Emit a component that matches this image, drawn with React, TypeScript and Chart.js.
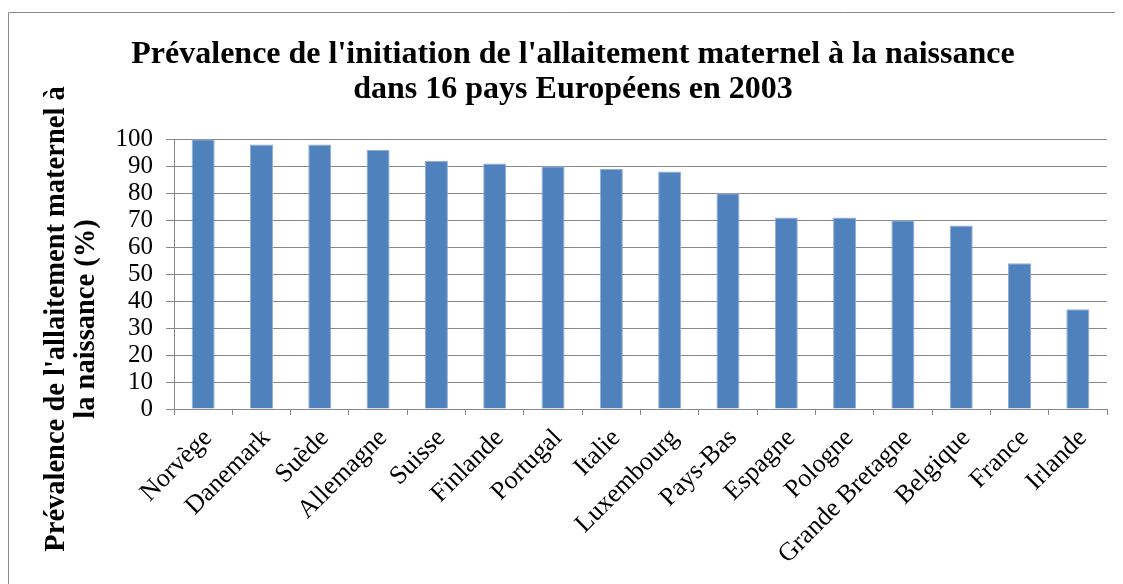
import React, { useEffect, useRef } from "react";
import { Chart, registerables } from "chart.js";

Chart.register(...registerables);

const countries = [
  "Norvège",
  "Danemark",
  "Suède",
  "Allemagne",
  "Suisse",
  "Finlande",
  "Portugal",
  "Italie",
  "Luxembourg",
  "Pays-Bas",
  "Espagne",
  "Pologne",
  "Grande Bretagne",
  "Belgique",
  "France",
  "Irlande",
];
const prevalence = [100, 98, 98, 96, 92, 91, 90, 89, 88, 80, 71, 71, 70, 68, 54, 37];
const titleLines = [
  "Prévalence de l'initiation de l'allaitement maternel à la naissance",
  "dans 16 pays Européens en 2003",
];
const yTitleLines = ["Prévalence de l'allaitement maternel à", "la naissance (%)"];
const yMin = 0;
const yMax = 100;
const yStep = 10;

const SERIF = "'Liberation Serif', 'Times New Roman', serif";
const W = 1115;
const H = 572;

const framePlugin = {
  id: "frameAndYTitle",
  afterDraw(chart: any) {
    const ctx = chart.ctx as CanvasRenderingContext2D;
    ctx.save();
    ctx.strokeStyle = "#8a8a8a";
    ctx.lineWidth = 1;
    ctx.beginPath();
    ctx.moveTo(0.5, chart.height);
    ctx.lineTo(0.5, 0.5);
    ctx.lineTo(chart.width, 0.5);
    ctx.stroke();
    ctx.translate(49, 307);
    ctx.rotate(-Math.PI / 2);
    ctx.font = "bold 28.5px " + SERIF;
    ctx.textAlign = "center";
    ctx.textBaseline = "middle";
    ctx.fillStyle = "#000";
    yTitleLines.forEach((line, i) => ctx.fillText(line, 0, i * 30));
    ctx.restore();
  },
};

export default function App() {
  const ref = useRef<HTMLCanvasElement | null>(null);
  useEffect(() => {
    document.documentElement.style.overflow = "hidden";
    const canvas = ref.current;
    if (!canvas) return;
    const chart = new Chart(canvas, {
      type: "bar",
      data: {
        labels: countries,
        datasets: [
          {
            data: prevalence,
            backgroundColor: "#4F81BD",
            borderColor: "#8FADD6",
            borderWidth: { top: 1, left: 1, right: 1, bottom: 0 },
            barPercentage: 0.395,
            categoryPercentage: 1,
          },
        ],
      },
      options: {
        responsive: false,
        animation: false,
        devicePixelRatio: 1,
        layout: { padding: { left: 31, right: 16, top: 0, bottom: 0 } },
        plugins: {
          legend: { display: false },
          tooltip: { enabled: false },
          title: {
            display: true,
            text: titleLines,
            color: "#000",
            font: { family: SERIF, size: 32, weight: "bold", lineHeight: 1.1 },
            padding: { top: 25, bottom: 31.8 },
          },
        },
        scales: {
          x: {
            grid: {
              display: true,
              offset: true,
              drawOnChartArea: false,
              drawTicks: true,
              tickLength: 6,
              color: "#888",
            },
            border: { display: true, color: "#888" },
            ticks: {
              autoSkip: false,
              maxRotation: 45,
              minRotation: 45,
              color: "#000",
              padding: 8,
              labelOffset: 5,
              font: { family: SERIF, size: 26 },
            },
            afterFit(scale: any) {
              scale.height = 175;
            },
          },
          y: {
            min: yMin,
            max: yMax,
            grid: { color: "#888", tickLength: 8, drawTicks: true },
            border: { display: true, color: "#888" },
            ticks: {
              stepSize: yStep,
              autoSkip: false,
              color: "#000",
              padding: 13,
              font: { family: SERIF, size: 25 },
            },
            afterFit(scale: any) {
              scale.width = 135;
            },
          },
        },
      },
      plugins: [framePlugin],
    });
    return () => chart.destroy();
  }, []);
  return (
    <div style={{ paddingTop: 4 }}>
      <canvas
        ref={ref}
        width={W}
        height={H}
        style={{ display: "block", width: W, height: H }}
      />
    </div>
  );
}
